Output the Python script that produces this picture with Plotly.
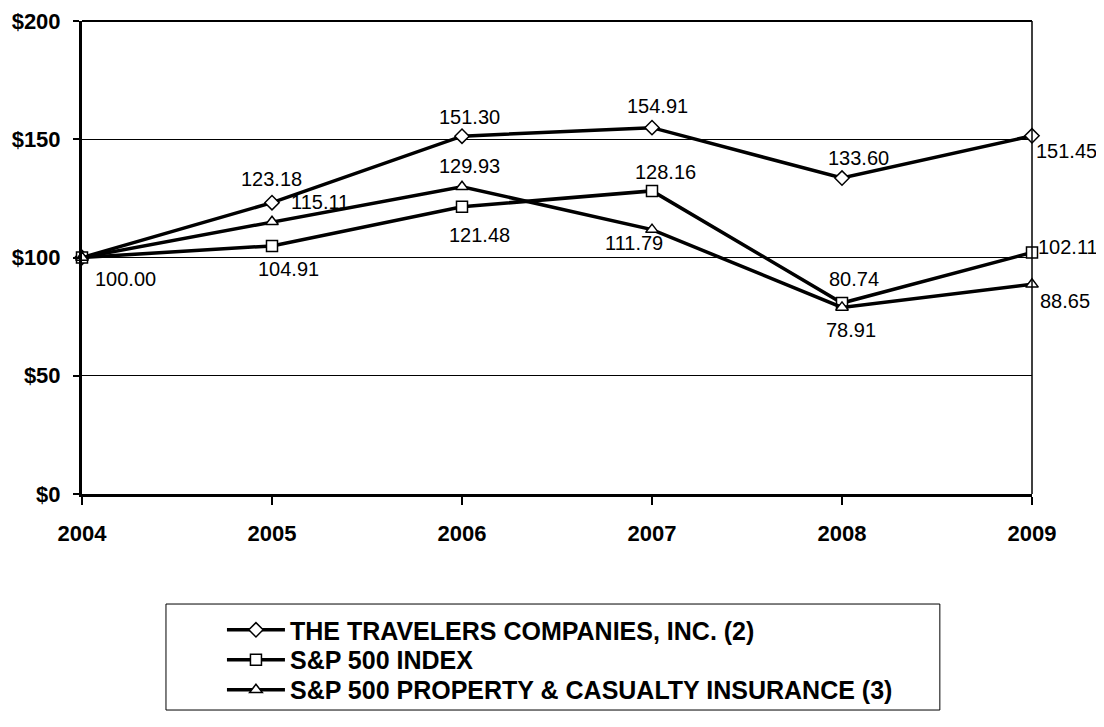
import plotly.graph_objects as go

years = [2004, 2005, 2006, 2007, 2008, 2009]
travelers = [100.00, 123.18, 151.30, 154.91, 133.60, 151.45]
sp500 = [100.00, 104.91, 121.48, 128.16, 80.74, 102.11]
pc_ins = [100.00, 115.11, 129.93, 111.79, 78.91, 88.65]

names = ["THE TRAVELERS COMPANIES, INC. (2)", "S&P 500 INDEX",
         "S&P 500 PROPERTY & CASUALTY INSURANCE (3)"]
y_ticks = [0, 50, 100, 150, 200]
y_tick_labels = ["$0", "$50", "$100", "$150", "$200"]

# label pixel offsets (dx right, dy down) relative to each point; None = no label
trav_off = [(43, 21), (-1, -24), (7, -19), (5, -22), (16, -20), (34, 15)]
sp_off = [None, (16, 23), (17, 28), (13, -19), (12, -24), (36, -6)]
pc_off = [None, (48, -20), (7, -21), (-18, 13), (9, 23), (33, 17)]

FONT = "Liberation Sans, Arial, sans-serif"
fig = go.Figure()
series = [
    (travelers, names[0], "diamond", trav_off, "legend"),
    (sp500, names[1], "square", sp_off, "legend2"),
    (pc_ins, names[2], "triangle-up", pc_off, "legend3"),
]
annotations = []
for vals, nm, sym, offs, lg in series:
    fig.add_trace(go.Scatter(
        x=years, y=vals, name=nm, mode="lines+markers",
        line=dict(color="black", width=3.5),
        marker=dict(symbol=sym, size=11, color="white",
                    line=dict(color="black", width=1.5)),
        cliponaxis=False, legend=lg,
    ))
    for x, v, off in zip(years, vals, offs):
        if off is None:
            continue
        annotations.append(dict(
            x=x, y=v, xref="x", yref="y", text=f"{v:.2f}", showarrow=False,
            xshift=off[0], yshift=-off[1], xanchor="center", yanchor="middle",
            font=dict(family=FONT, size=20, color="black"),
        ))

fig.update_xaxes(
    range=[2004, 2009], tickvals=years, ticktext=[str(y) for y in years],
    showgrid=False, showline=True, linecolor="black", linewidth=3,
    ticks="outside", ticklen=8, tickwidth=2, tickcolor="black",
    ticklabelstandoff=10,
    tickfont=dict(family=FONT, size=22, color="black", weight="bold"),
    zeroline=False, automargin=False,
)
fig.update_yaxes(
    range=[0, 200], tickvals=y_ticks, ticktext=y_tick_labels,
    showgrid=True, gridcolor="black", gridwidth=1.2,
    showline=True, linecolor="black", linewidth=3,
    ticks="outside", ticklen=6, tickwidth=2, tickcolor="black",
    ticklabelstandoff=8,
    tickfont=dict(family=FONT, size=22, color="black", weight="bold"),
    zeroline=False, automargin=False,
)

shapes = [
    dict(type="line", xref="paper", yref="paper", x0=1, x1=1, y0=0, y1=1,
         line=dict(color="black", width=1.5)),
    dict(type="line", xref="paper", yref="paper", x0=0, x1=1, y0=1, y1=1,
         line=dict(color="black", width=2)),
    dict(type="rect", xref="paper", yref="paper", x0=0.0884, x1=0.903,
         y0=-0.4567, y1=-0.2326, line=dict(color="black", width=1)),
]

def leg(ycont):
    return dict(
        xref="container", yref="container",
        x=0.1938, y=ycont, xanchor="left", yanchor="middle",
        bgcolor="rgba(0,0,0,0)", borderwidth=0,
        font=dict(family=FONT, size=25, color="black", weight="bold"),
        itemwidth=58,
    )

fig.update_layout(
    width=1104, height=727,
    margin=dict(l=74, r=80, t=13, b=241, autoexpand=False),
    paper_bgcolor="white", plot_bgcolor="white",
    shapes=shapes, annotations=annotations,
    showlegend=True,
    legend=leg(0.1444),
    legend2=leg(0.1032),
    legend3=leg(0.0619),
)
fig.write_html("out.html")
